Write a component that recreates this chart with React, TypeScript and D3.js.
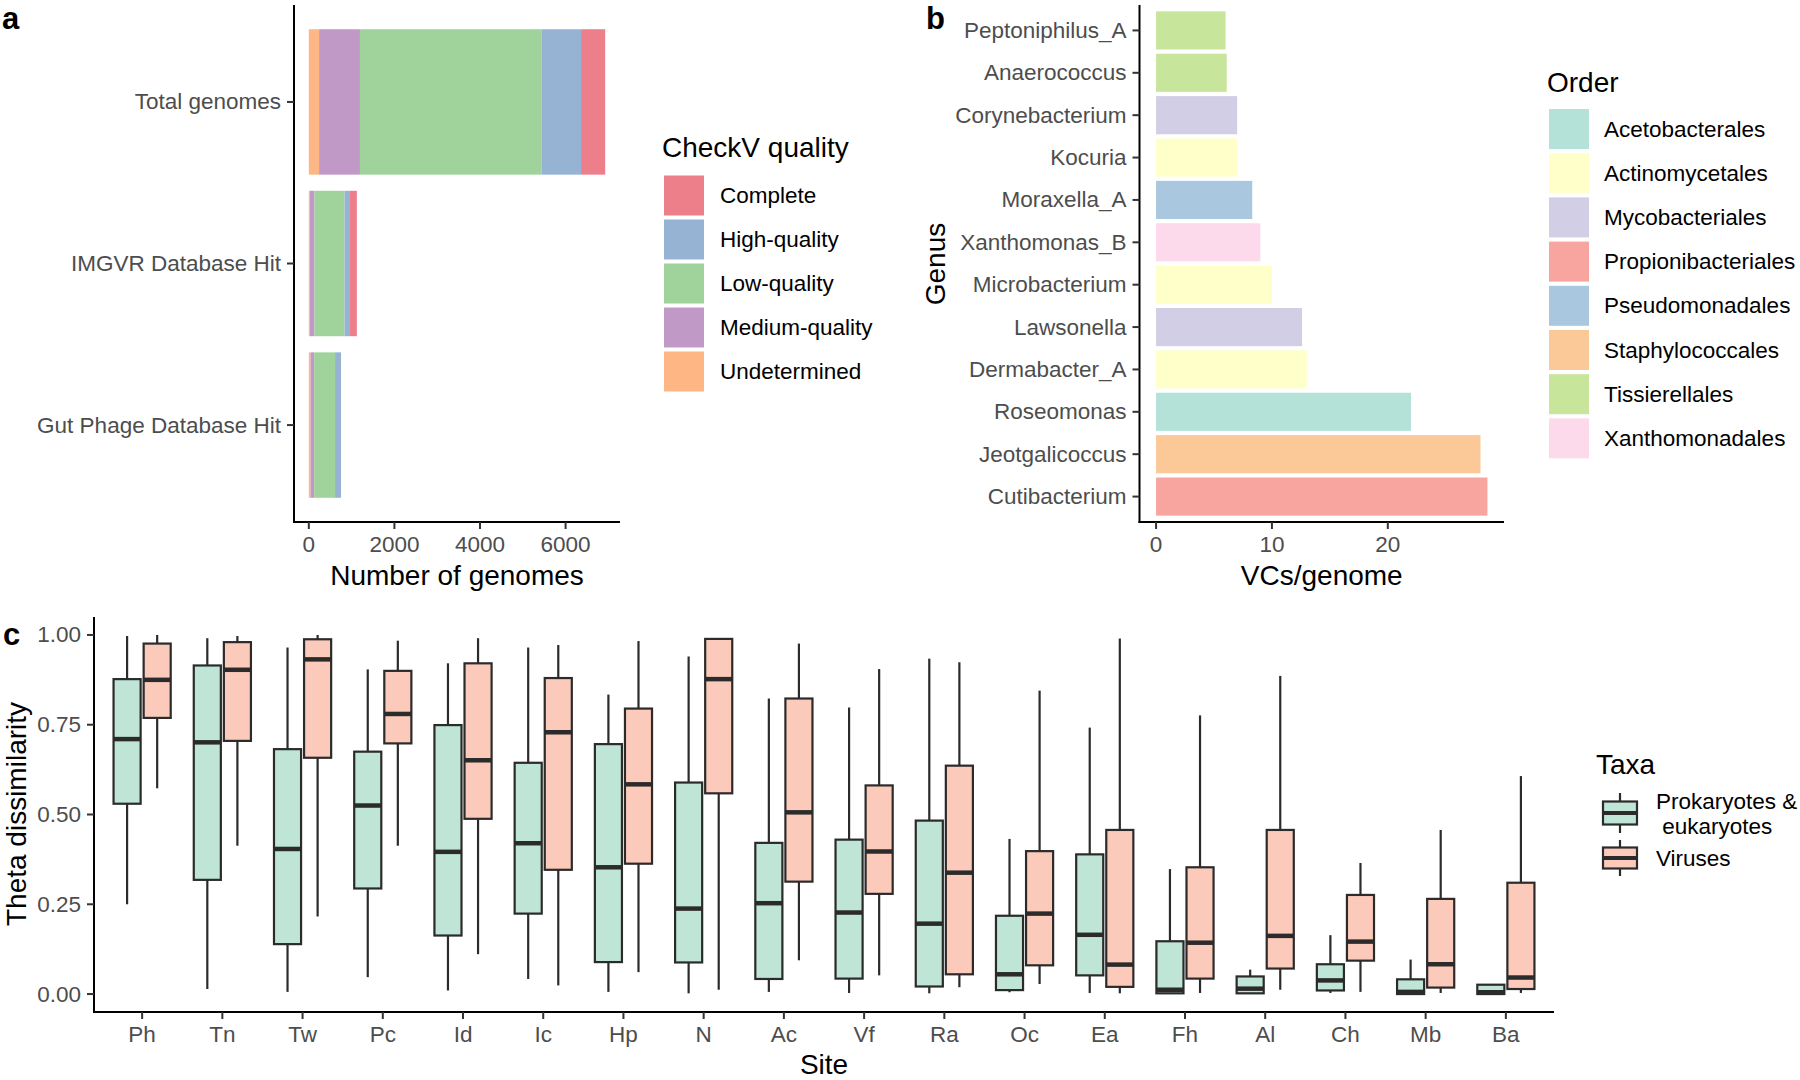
import React from "react";
import * as d3 from "d3";

// ---------- Panel a data ----------
const checkvCategories = ["Total genomes", "IMGVR Database Hit", "Gut Phage Database Hit"];
const qualityStackOrder = ["Undetermined", "Medium-quality", "Low-quality", "High-quality", "Complete"];
const qualityLegendOrder = ["Complete", "High-quality", "Low-quality", "Medium-quality", "Undetermined"];
const undeterminedCounts = [240, 23, 40];
const mediumCounts = [955, 108, 85];
const lowCounts = [4240, 705, 488];
const highCounts = [926, 108, 140];
const completeCounts = [564, 178, 0];
const genomeTicks = [0, 2000, 4000, 6000];
const qualityColors: Record<string, string> = {
  Complete: "#EC7F89",
  "High-quality": "#97B3D4",
  "Low-quality": "#A0D29C",
  "Medium-quality": "#C199C7",
  Undetermined: "#FDB684",
};

// ---------- Panel b data ----------
const genera = [
  "Peptoniphilus_A", "Anaerococcus", "Corynebacterium", "Kocuria", "Moraxella_A", "Xanthomonas_B",
  "Microbacterium", "Lawsonella", "Dermabacter_A", "Roseomonas", "Jeotgalicoccus", "Cutibacterium",
];
const vcsPerGenome = [6.0, 6.1, 7.0, 7.0, 8.3, 9.0, 10.0, 12.6, 13.0, 22.0, 28.0, 28.6];
const genusOrder = [
  "Tissierellales", "Tissierellales", "Mycobacteriales", "Actinomycetales", "Pseudomonadales", "Xanthomonadales",
  "Actinomycetales", "Mycobacteriales", "Actinomycetales", "Acetobacterales", "Staphylococcales", "Propionibacteriales",
];
const orderNames = [
  "Acetobacterales", "Actinomycetales", "Mycobacteriales", "Propionibacteriales",
  "Pseudomonadales", "Staphylococcales", "Tissierellales", "Xanthomonadales",
];
const orderColors = ["#B4E2D8", "#FFFFCA", "#D2CEE5", "#F9A59F", "#A9C8DF", "#FBC897", "#C8E69B", "#FCD9EB"];
const vcTicks = [0, 10, 20];

// ---------- Panel c data ----------
const sites = ["Ph", "Tn", "Tw", "Pc", "Id", "Ic", "Hp", "N", "Ac", "Vf", "Ra", "Oc", "Ea", "Fh", "Al", "Ch", "Mb", "Ba"];
// [lower whisker, q1, median, q3, upper whisker]
const prokEukStats = [
  [0.250, 0.530, 0.710, 0.877, 0.997],
  [0.014, 0.318, 0.701, 0.915, 0.991],
  [0.006, 0.139, 0.404, 0.682, 0.965],
  [0.047, 0.294, 0.525, 0.675, 0.904],
  [0.010, 0.163, 0.396, 0.749, 0.921],
  [0.042, 0.224, 0.420, 0.644, 0.965],
  [0.006, 0.089, 0.353, 0.696, 0.834],
  [0.002, 0.088, 0.238, 0.589, 0.940],
  [0.006, 0.042, 0.253, 0.421, 0.823],
  [0.003, 0.043, 0.227, 0.430, 0.798],
  [0.002, 0.021, 0.196, 0.483, 0.934],
  [0.005, 0.011, 0.055, 0.218, 0.432],
  [0.003, 0.052, 0.165, 0.389, 0.742],
  [0.000, 0.002, 0.012, 0.147, 0.348],
  [0.000, 0.002, 0.015, 0.049, 0.068],
  [0.003, 0.010, 0.038, 0.083, 0.164],
  [0.000, 0.000, 0.006, 0.041, 0.096],
  [0.000, 0.000, 0.005, 0.026, 0.026],
];
const virusStats = [
  [0.573, 0.769, 0.875, 0.976, 1.000],
  [0.413, 0.705, 0.903, 0.980, 0.997],
  [0.216, 0.658, 0.932, 0.988, 1.000],
  [0.413, 0.698, 0.780, 0.900, 0.984],
  [0.111, 0.488, 0.651, 0.921, 0.991],
  [0.024, 0.346, 0.729, 0.880, 0.972],
  [0.061, 0.363, 0.584, 0.795, 0.983],
  [0.012, 0.559, 0.877, 0.989, 0.989],
  [0.094, 0.313, 0.506, 0.823, 0.976],
  [0.052, 0.279, 0.397, 0.581, 0.905],
  [0.019, 0.055, 0.338, 0.636, 0.924],
  [0.028, 0.080, 0.224, 0.398, 0.845],
  [0.002, 0.020, 0.082, 0.457, 0.990],
  [0.003, 0.043, 0.143, 0.353, 0.776],
  [0.012, 0.071, 0.162, 0.457, 0.886],
  [0.006, 0.093, 0.146, 0.276, 0.365],
  [0.003, 0.018, 0.083, 0.265, 0.457],
  [0.003, 0.014, 0.046, 0.310, 0.607],
];
const thetaTicks = [0, 0.25, 0.5, 0.75, 1.0];
const taxaNames = ["Prokaryotes &\n eukaryotes", "Viruses"];
const taxaColors = ["#BFE5D6", "#FCCABA"];

const FONT = "'Liberation Sans', Arial, Helvetica, sans-serif";
const TICK_COL = "#4D4D4D";
const AXIS_COL = "#000000";
const TS = 22.5;

function PanelA() {
  const countsByQuality: Record<string, number[]> = {
    Undetermined: undeterminedCounts,
    "Medium-quality": mediumCounts,
    "Low-quality": lowCounts,
    "High-quality": highCounts,
    Complete: completeCounts,
  };
  const totals = checkvCategories.map((_, i) => qualityStackOrder.reduce((s, q) => s + countsByQuality[q][i], 0));
  const maxT = d3.max(totals) as number;
  const X0 = 294, X1 = 620;
  const x = d3.scaleLinear().domain([-0.05 * maxT, 1.05 * maxT]).range([X0, X1]);
  const y = d3.scalePoint<string>().domain(checkvCategories).range([5, 522]).padding(0.6);
  const bh = 0.9 * y.step();
  const rects: JSX.Element[] = [];
  checkvCategories.forEach((c, i) => {
    let acc = 0;
    qualityStackOrder.forEach((q) => {
      const v = countsByQuality[q][i];
      if (v > 0) {
        rects.push(
          <rect key={c + q} x={x(acc)} width={x(acc + v) - x(acc)} y={(y(c) as number) - bh / 2} height={bh} fill={qualityColors[q]} />
        );
      }
      acc += v;
    });
  });
  return (
    <g>
      {rects}
      <line x1={X0} x2={X0} y1={5} y2={523} stroke={AXIS_COL} strokeWidth={2} />
      <line x1={X0 - 1} x2={X1} y1={522} y2={522} stroke={AXIS_COL} strokeWidth={2} />
      {checkvCategories.map((c) => (
        <g key={c}>
          <line x1={X0 - 7} x2={X0} y1={y(c)} y2={y(c)} stroke="#333" strokeWidth={2} />
          <text x={X0 - 13} y={y(c)} textAnchor="end" dominantBaseline="central" fontSize={TS} fill={TICK_COL}>{c}</text>
        </g>
      ))}
      {genomeTicks.map((t) => (
        <g key={t}>
          <line x1={x(t)} x2={x(t)} y1={522} y2={529} stroke="#333" strokeWidth={2} />
          <text x={x(t)} y={544} textAnchor="middle" dominantBaseline="central" fontSize={TS} fill={TICK_COL}>{t}</text>
        </g>
      ))}
      <text x={(X0 + X1) / 2} y={575} textAnchor="middle" dominantBaseline="central" fontSize={28} fill="#000">Number of genomes</text>
      <text x={662} y={147} dominantBaseline="central" fontSize={28} fill="#000">CheckV quality</text>
      {qualityLegendOrder.map((q, i) => (
        <g key={q}>
          <rect x={664} y={175.5 + i * 44} width={40} height={40} fill={qualityColors[q]} />
          <text x={720} y={195.5 + i * 44} dominantBaseline="central" fontSize={TS} fill="#000">{q}</text>
        </g>
      ))}
      <text x={2} y={29} fontSize={31} fontWeight="bold" fill="#000">a</text>
    </g>
  );
}

function PanelB() {
  const maxV = d3.max(vcsPerGenome) as number;
  const X0 = 1139.5, X1 = 1504;
  const x = d3.scaleLinear().domain([-0.05 * maxV, 1.05 * maxV]).range([X0, X1]);
  const y = d3.scalePoint<string>().domain(genera).range([5, 522]).padding(0.6);
  const bh = 0.9 * y.step();
  const color = d3.scaleOrdinal<string, string>().domain(orderNames).range(orderColors);
  return (
    <g>
      {genera.map((g, i) => (
        <rect key={g} x={x(0)} width={x(vcsPerGenome[i]) - x(0)} y={(y(g) as number) - bh / 2} height={bh} fill={color(genusOrder[i])} />
      ))}
      <line x1={X0} x2={X0} y1={5} y2={523} stroke={AXIS_COL} strokeWidth={2} />
      <line x1={X0 - 1} x2={X1} y1={522} y2={522} stroke={AXIS_COL} strokeWidth={2} />
      {genera.map((g) => (
        <g key={g}>
          <line x1={X0 - 7} x2={X0} y1={y(g)} y2={y(g)} stroke="#333" strokeWidth={2} />
          <text x={X0 - 13} y={y(g)} textAnchor="end" dominantBaseline="central" fontSize={TS} fill={TICK_COL}>{g}</text>
        </g>
      ))}
      {vcTicks.map((t) => (
        <g key={t}>
          <line x1={x(t)} x2={x(t)} y1={522} y2={529} stroke="#333" strokeWidth={2} />
          <text x={x(t)} y={544} textAnchor="middle" dominantBaseline="central" fontSize={TS} fill={TICK_COL}>{t}</text>
        </g>
      ))}
      <text x={(X0 + X1) / 2} y={575} textAnchor="middle" dominantBaseline="central" fontSize={28} fill="#000">VCs/genome</text>
      <text transform="translate(935,264) rotate(-90)" textAnchor="middle" dominantBaseline="central" fontSize={28} fill="#000">Genus</text>
      <text x={1547} y={82} dominantBaseline="central" fontSize={28} fill="#000">Order</text>
      {orderNames.map((o, i) => (
        <g key={o}>
          <rect x={1549} y={109 + i * 44.2} width={40} height={40} fill={color(o)} />
          <text x={1604} y={129 + i * 44.2} dominantBaseline="central" fontSize={TS} fill="#000">{o}</text>
        </g>
      ))}
      <text x={926} y={29} fontSize={31} fontWeight="bold" fill="#000">b</text>
    </g>
  );
}

function Box({ cx, w, s, fill, y }: { cx: number; w: number; s: number[]; fill: string; y: d3.ScaleLinear<number, number> }) {
  const [lo, q1, med, q3, hi] = s;
  return (
    <g>
      <line x1={cx} x2={cx} y1={y(hi)} y2={y(q3)} stroke="#2B2B2B" strokeWidth={2.2} />
      <line x1={cx} x2={cx} y1={y(q1)} y2={y(lo)} stroke="#2B2B2B" strokeWidth={2.2} />
      <rect x={cx - w / 2} width={w} y={y(q3)} height={Math.max(0.5, y(q1) - y(q3))} fill={fill} stroke="#2B2B2B" strokeWidth={2.2} />
      <line x1={cx - w / 2} x2={cx + w / 2} y1={y(med)} y2={y(med)} stroke="#2B2B2B" strokeWidth={4.5} />
    </g>
  );
}

function PanelC() {
  const X0 = 94, X1 = 1554;
  const x = d3.scalePoint<string>().domain(sites).range([X0, X1]).padding(0.6);
  const y = d3.scaleLinear().domain([-0.05, 1.05]).range([1012, 617]);
  const step = x.step();
  const dodge = (0.75 * step) / 4;
  const bw = ((0.75 * step) / 2) * 0.9;
  return (
    <g>
      {sites.map((s, i) => (
        <g key={s}>
          <Box cx={(x(s) as number) - dodge} w={bw} s={prokEukStats[i]} fill={taxaColors[0]} y={y} />
          <Box cx={(x(s) as number) + dodge} w={bw} s={virusStats[i]} fill={taxaColors[1]} y={y} />
        </g>
      ))}
      <line x1={X0} x2={X0} y1={617} y2={1013} stroke={AXIS_COL} strokeWidth={2} />
      <line x1={X0 - 1} x2={X1} y1={1012} y2={1012} stroke={AXIS_COL} strokeWidth={2} />
      {thetaTicks.map((t) => (
        <g key={t}>
          <line x1={X0 - 7} x2={X0} y1={y(t)} y2={y(t)} stroke="#333" strokeWidth={2} />
          <text x={X0 - 13} y={y(t)} textAnchor="end" dominantBaseline="central" fontSize={TS} fill={TICK_COL}>{t.toFixed(2)}</text>
        </g>
      ))}
      {sites.map((s) => (
        <g key={s}>
          <line x1={x(s)} x2={x(s)} y1={1012} y2={1019} stroke="#333" strokeWidth={2} />
          <text x={x(s)} y={1034} textAnchor="middle" dominantBaseline="central" fontSize={TS} fill={TICK_COL}>{s}</text>
        </g>
      ))}
      <text x={(X0 + X1) / 2} y={1064} textAnchor="middle" dominantBaseline="central" fontSize={28} fill="#000">Site</text>
      <text transform="translate(16,814) rotate(-90)" textAnchor="middle" dominantBaseline="central" fontSize={28} fill="#000">Theta dissimilarity</text>
      <text x={1596} y={764} dominantBaseline="central" fontSize={28} fill="#000">Taxa</text>
      {[
        { top: 790, bot: 836 },
        { top: 837, bot: 879 },
      ].map((k, i) => {
        const kx = 1603;
        const cx = kx + 17;
        const h = k.bot - k.top;
        const b1 = k.top + h * 0.25;
        const b2 = k.bot - h * 0.25;
        return (
          <g key={i}>
            <line x1={cx} x2={cx} y1={k.top + 3} y2={k.bot - 3} stroke="#2B2B2B" strokeWidth={2.2} />
            <rect x={kx} y={b1} width={34} height={b2 - b1} fill={taxaColors[i]} stroke="#2B2B2B" strokeWidth={2.2} />
            <line x1={kx} x2={kx + 34} y1={(b1 + b2) / 2} y2={(b1 + b2) / 2} stroke="#2B2B2B" strokeWidth={4} />
          </g>
        );
      })}
      <text x={1656} y={801} dominantBaseline="central" fontSize={TS} fill="#000">{taxaNames[0].split("\n")[0]}</text>
      <text x={1656} y={826} dominantBaseline="central" fontSize={TS} fill="#000" xmlSpace="preserve">{taxaNames[0].split("\n")[1]}</text>
      <text x={1656} y={858} dominantBaseline="central" fontSize={TS} fill="#000">{taxaNames[1]}</text>
      <text x={3} y={645} fontSize={31} fontWeight="bold" fill="#000">c</text>
    </g>
  );
}

export default function App() {
  return (
    <svg
      width={1800}
      height={1080}
      style={{ position: "absolute", left: 0, top: 0, background: "#fff" }}
      fontFamily={FONT}
    >
      <rect width={1800} height={1080} fill="#fff" />
      <PanelA />
      <PanelB />
      <PanelC />
    </svg>
  );
}
